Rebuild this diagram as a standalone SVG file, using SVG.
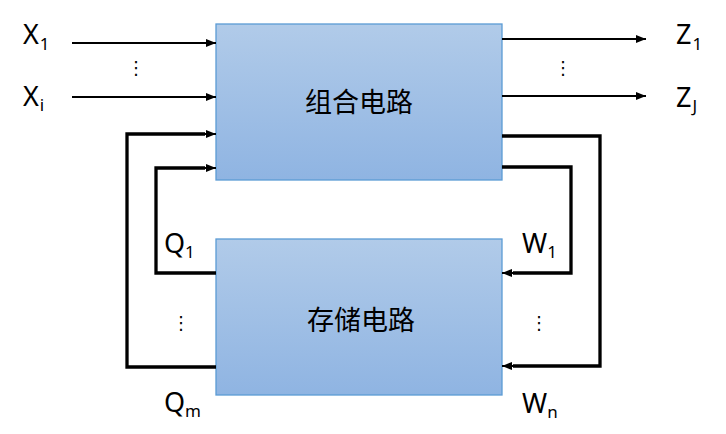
<svg xmlns="http://www.w3.org/2000/svg" width="726" height="434" viewBox="0 0 726 434">
<style>
.box{stroke:#5b9bd5;stroke-width:1.3;fill:url(#g)}
.lbl{font-family:"Noto Sans","Open Sans",sans-serif;font-size:27px;fill:#000}
.sub{font-size:17px}
.cn{font-family:"Noto Sans CJK SC",sans-serif;font-size:27px;fill:#000;text-anchor:middle}
.dot{font-family:"DejaVu Sans",sans-serif;font-size:18px;fill:#000;text-anchor:middle}
.thin{stroke:#000;stroke-width:2;fill:none}
.thick{stroke:#000;stroke-width:3.3;fill:none}
</style>
<defs>
<linearGradient id="g" x1="0" y1="0" x2="0" y2="1">
<stop offset="0" stop-color="#b1cbe9"/>
<stop offset="1" stop-color="#8fb4e2"/>
</linearGradient>
<marker id="ah" viewBox="0 0 10 8" refX="10" refY="4" markerWidth="10" markerHeight="8" markerUnits="userSpaceOnUse" orient="auto">
<path d="M0,0 L10,4 L0,8 Z" fill="#000"/>
</marker>
</defs>
<g id="comb">
<rect class="box" x="216" y="24" width="286" height="156"/>
<text class="cn" x="359" y="112">组合电路</text>
</g>
<g id="store">
<rect class="box" x="216" y="239" width="286" height="156"/>
<text class="cn" x="361" y="330">存储电路</text>
</g>
<g id="connectors">
<line class="thin" x1="72" y1="43" x2="216" y2="43" marker-end="url(#ah)"/>
<line class="thin" x1="72" y1="97" x2="216" y2="97" marker-end="url(#ah)"/>
<line class="thin" x1="502" y1="39" x2="646" y2="39" marker-end="url(#ah)"/>
<line class="thin" x1="502" y1="96" x2="646" y2="96" marker-end="url(#ah)"/>
<polyline class="thick" points="216,367 127,367 127,134 205,134"/>
<line class="thin" x1="200" y1="134" x2="216" y2="134" marker-end="url(#ah)"/>
<polyline class="thick" points="216,273 156,273 156,168 205,168"/>
<line class="thin" x1="200" y1="168" x2="216" y2="168" marker-end="url(#ah)"/>
<polyline class="thick" points="502,136 600,136 600,366 513,366"/>
<line class="thin" x1="518" y1="366" x2="502" y2="366" marker-end="url(#ah)"/>
<polyline class="thick" points="502,167 571,167 571,273 513,273"/>
<line class="thin" x1="518" y1="273" x2="502" y2="273" marker-end="url(#ah)"/>
</g>
<g id="labels">
<text class="lbl" x="23" y="44">X<tspan class="sub" dx="1" dy="6">1</tspan></text>
<text class="lbl" x="23" y="106">X<tspan class="sub" dx="1" dy="5">i</tspan></text>
<text class="lbl" x="676" y="44">Z<tspan class="sub" dx="1" dy="6">1</tspan></text>
<text class="lbl" x="676" y="107">Z<tspan class="sub" dx="1" dy="5">J</tspan></text>
<text class="lbl" x="164" y="253">Q<tspan class="sub" dx="0" dy="5">1</tspan></text>
<text class="lbl" x="164" y="412">Q<tspan class="sub" dx="0" dy="5">m</tspan></text>
<text class="lbl" x="522" y="253">W<tspan class="sub" dx="0" dy="5">1</tspan></text>
<text class="lbl" x="522" y="413">W<tspan class="sub" dx="0" dy="5">n</tspan></text>
<text class="dot" x="136" y="74">⋮</text>
<text class="dot" x="563" y="74">⋮</text>
<text class="dot" x="181" y="329">⋮</text>
<text class="dot" x="539" y="329">⋮</text>
</g>
</svg>
